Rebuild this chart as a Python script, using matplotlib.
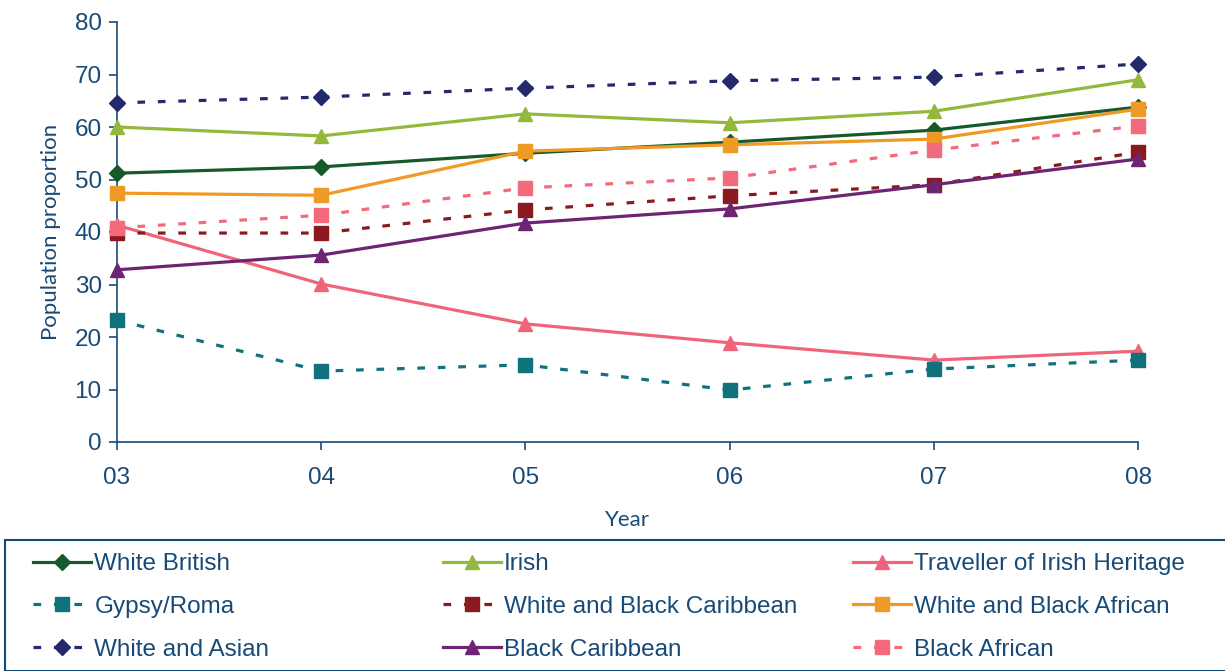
import matplotlib
matplotlib.use("Agg")
import matplotlib.pyplot as plt
from matplotlib.patches import Rectangle

years = ["03", "04", "05", "06", "07", "08"]
white_british = [51.2, 52.4, 55.0, 57.1, 59.4, 63.8]
irish = [60.0, 58.3, 62.5, 60.8, 63.0, 69.0]
traveller = [41.3, 30.1, 22.5, 18.9, 15.6, 17.3]
gypsy_roma = [23.2, 13.5, 14.7, 9.9, 13.9, 15.6]
white_black_caribbean = [39.8, 39.8, 44.2, 46.9, 49.0, 55.2]
white_black_african = [47.4, 47.0, 55.4, 56.6, 57.7, 63.4]
white_asian = [64.6, 65.7, 67.4, 68.8, 69.5, 72.0]
black_caribbean = [32.8, 35.6, 41.7, 44.4, 49.0, 53.9]
black_african = [40.8, 43.2, 48.4, 50.3, 55.6, 60.2]

series = [
    ("White British", white_british, "#17592A", "D", "-"),
    ("Irish", irish, "#93B83C", "^", "-"),
    ("Traveller of Irish Heritage", traveller, "#F0647A", "^", "-"),
    ("Gypsy/Roma", gypsy_roma, "#10727D", "s", "dash"),
    ("White and Black Caribbean", white_black_caribbean, "#8A1A1F", "s", "dash"),
    ("White and Black African", white_black_african, "#EE9A24", "s", "-"),
    ("White and Asian", white_asian, "#24296B", "D", "dash"),
    ("Black Caribbean", black_caribbean, "#6D2473", "^", "-"),
    ("Black African", black_african, "#F26A7C", "s", "dash"),
]

txt = "#184A78"
W, H = 1225, 671
fig = plt.figure(figsize=(W / 100, H / 100), dpi=100)
ax = fig.add_axes([117 / W, 1 - 442 / H, (1138 - 117) / W, 420 / H])

x = list(range(len(years)))
handles = []
for name, vals, col, mk, ls in series:
    msz = 8.5 if mk == "D" else 10
    style = (0, (2.4, 4.0)) if ls == "dash" else "-"
    line, = ax.plot(x, vals, color=col, lw=2.3, linestyle=style,
                    marker=mk, markersize=msz, markerfacecolor=col,
                    markeredgecolor=col, label=name, clip_on=False, zorder=3)
    handles.append(line)

ax.set_xlim(0, len(years) - 1)
ax.set_ylim(0, 80)
ax.set_xticks(x)
ax.set_xticklabels(years)
ax.set_yticks(range(0, 81, 10))
for s in ["top", "right"]:
    ax.spines[s].set_visible(False)
for s in ["left", "bottom"]:
    ax.spines[s].set_color(txt)
    ax.spines[s].set_linewidth(1.2)
ax.tick_params(axis="both", colors=txt, labelcolor=txt, labelsize=17.5,
               length=6, width=1.2, direction="out")
ax.tick_params(axis="y", pad=5)
ax.tick_params(axis="x", pad=12)
for lab in ax.get_xticklabels() + ax.get_yticklabels():
    lab.set_fontfamily("Liberation Sans")

ax.set_xlabel("Year", fontsize=16, color=txt, family="Lato", labelpad=15)
ax.set_ylabel("Population proportion", fontsize=16, color=txt, family="Lato", labelpad=10)

# legend frame
fig.patches.append(Rectangle((5 / W, 0), 1.2, 131 / H, transform=fig.transFigure,
                             fill=False, edgecolor=txt, linewidth=1.5))

cols = [[0, 3, 6], [1, 4, 7], [2, 5, 8]]
xs = [33 / W, 443 / W, 853 / W]
for cx, idxs in zip(xs, cols):
    fig.legend([handles[i] for i in idxs], [series[i][0] for i in idxs],
               loc="upper left", bbox_to_anchor=(cx, 1 - 553 / H),
               frameon=False, prop={"family": "Liberation Sans", "size": 17.5},
               handlelength=2.4, handletextpad=0.12, labelspacing=0.86,
               borderpad=0, borderaxespad=0, labelcolor=txt)

fig.savefig("out.png", dpi=100)
